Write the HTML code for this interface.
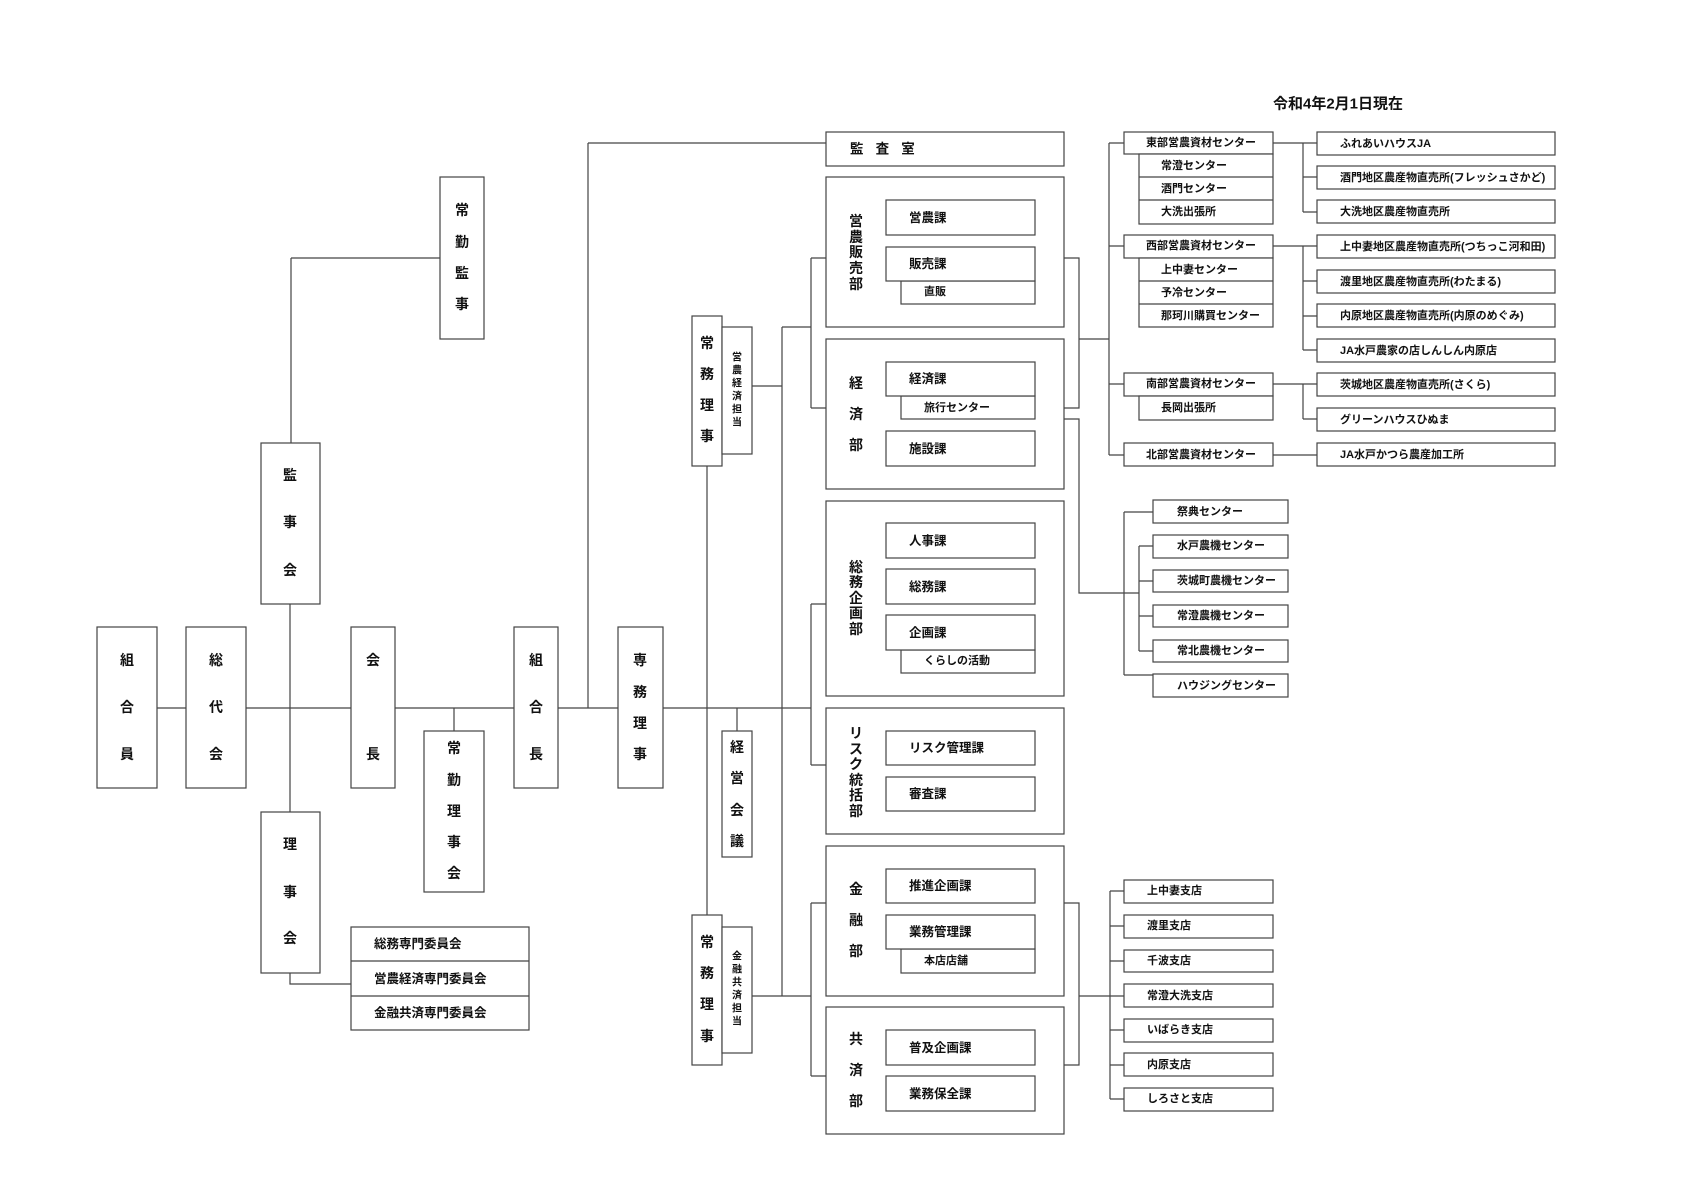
<!DOCTYPE html>
<html><head><meta charset="utf-8"><style>
html,body{margin:0;padding:0;background:#fff;}
svg{display:block;}
text{font-family:"Liberation Sans","Noto Sans CJK JP",sans-serif;font-weight:bold;fill:#111;}
.b{fill:#fff;stroke:#444;stroke-width:1.2;}
.l{fill:none;stroke:#444;stroke-width:1.2;}
.v{font-size:14px;text-anchor:middle;dominant-baseline:central;}
.s{font-size:11px;dominant-baseline:central;}
.m{font-size:12.5px;dominant-baseline:central;}
</style></head><body>
<svg width="1683" height="1190" viewBox="0 0 1683 1190" xmlns="http://www.w3.org/2000/svg">
<text x="1273" y="104" style="font-size:15px;dominant-baseline:central">令和4年2月1日現在</text>

<!-- connectors -->
<path class="l" d="M588 143H826M588 143V708M157 708H186M246 708H351M395 708H514M558 708H618M663 708H811
M291 258H440M291 258V443M290 604V812M290 973V984H351M454 708V731
M707 466V915M782 327V996M737 708V731M752 386H782M782 327H811M752 996H811
M811 258V408M811 258H826M811 408H826M811 604V765M811 604H826M811 765H826M811 903V1076M811 903H826M811 1076H826
M1064 258H1079V408H1064M1079 339H1109
M1064 419H1079V593H1139M1124 512V675M1124 512H1153M1124 675H1153M1139 546V651M1139 546H1153M1139 581H1153M1139 616H1153M1139 651H1153
M1064 903H1079V1065H1064M1079 996H1110M1110 891V1099M1110 891H1124M1110 926H1124M1110 961H1124M1110 996H1124M1110 1030H1124M1110 1065H1124M1110 1099H1124
M1109 143V455M1109 143H1124M1109 246H1124M1109 384H1124M1109 455H1124
M1273 143H1303M1303 143V212M1303 177H1317M1303 212H1317M1303 143H1317
M1273 246H1303M1303 246V350M1303 246H1317M1303 281H1317M1303 316H1317M1303 350H1317
M1273 384H1303M1303 384V419M1303 419H1317M1303 384H1317M1273 455H1317"/>

<!-- left tall boxes -->
<rect class="b" x="97" y="627" width="60" height="161"/>
<text class="v" x="127" y="660">組</text><text class="v" x="127" y="707">合</text><text class="v" x="127" y="754">員</text>
<rect class="b" x="186" y="627" width="60" height="161"/>
<text class="v" x="216" y="660">総</text><text class="v" x="216" y="707">代</text><text class="v" x="216" y="754">会</text>
<rect class="b" x="351" y="627" width="44" height="161"/>
<text class="v" x="373" y="660">会</text><text class="v" x="373" y="754">長</text>
<rect class="b" x="514" y="627" width="44" height="161"/>
<text class="v" x="536" y="660">組</text><text class="v" x="536" y="707">合</text><text class="v" x="536" y="754">長</text>
<rect class="b" x="618" y="627" width="45" height="161"/>
<text class="v" x="640" y="660">専</text><text class="v" x="640" y="692">務</text><text class="v" x="640" y="723">理</text><text class="v" x="640" y="754">事</text>
<rect class="b" x="424" y="731" width="60" height="161"/>
<text class="v" x="454" y="748">常</text><text class="v" x="454" y="780">勤</text><text class="v" x="454" y="811">理</text><text class="v" x="454" y="842">事</text><text class="v" x="454" y="873">会</text>
<rect class="b" x="261" y="812" width="59" height="161"/>
<text class="v" x="290" y="844">理</text><text class="v" x="290" y="892">事</text><text class="v" x="290" y="938">会</text>
<rect class="b" x="261" y="443" width="59" height="161"/>
<text class="v" x="290" y="475">監</text><text class="v" x="290" y="522">事</text><text class="v" x="290" y="570">会</text>
<rect class="b" x="440" y="177" width="44" height="162"/>
<text class="v" x="462" y="210">常</text><text class="v" x="462" y="242">勤</text><text class="v" x="462" y="273">監</text><text class="v" x="462" y="304">事</text>

<!-- committees -->
<rect class="b" x="351" y="927" width="178" height="103"/>
<path class="l" d="M351 961H529M351 996H529"/>
<text class="m" x="374" y="944">総務専門委員会</text>
<text class="m" x="374" y="979">営農経済専門委員会</text>
<text class="m" x="374" y="1013">金融共済専門委員会</text>

<!-- 常務理事 upper -->
<rect class="b" x="692" y="316" width="30" height="150"/>
<text class="v" x="707" y="343">常</text><text class="v" x="707" y="374">務</text><text class="v" x="707" y="405">理</text><text class="v" x="707" y="436">事</text>
<rect class="b" x="722" y="327" width="30" height="127"/>
<g style="font-size:10px;text-anchor:middle;dominant-baseline:central">
<text x="737" y="358">営</text><text x="737" y="371">農</text><text x="737" y="384">経</text><text x="737" y="397">済</text><text x="737" y="410">担</text><text x="737" y="423">当</text></g>
<!-- 経営会議 -->
<rect class="b" x="722" y="731" width="30" height="126"/>
<text class="v" x="737" y="747">経</text><text class="v" x="737" y="778">営</text><text class="v" x="737" y="810">会</text><text class="v" x="737" y="841">議</text>
<!-- 常務理事 lower -->
<rect class="b" x="692" y="915" width="30" height="150"/>
<text class="v" x="707" y="942">常</text><text class="v" x="707" y="973">務</text><text class="v" x="707" y="1004">理</text><text class="v" x="707" y="1036">事</text>
<rect class="b" x="722" y="927" width="30" height="126"/>
<g style="font-size:10px;text-anchor:middle;dominant-baseline:central">
<text x="737" y="957">金</text><text x="737" y="970">融</text><text x="737" y="983">共</text><text x="737" y="996">済</text><text x="737" y="1009">担</text><text x="737" y="1022">当</text></g>

<!-- 監査室 -->
<rect class="b" x="826" y="132" width="238" height="34"/>
<text class="m" x="850" y="149" style="font-size:13.5px;letter-spacing:0.9em">監査室</text>

<!-- 営農販売部 -->
<rect class="b" x="826" y="177" width="238" height="150"/>
<text class="v" x="856" y="221">営</text><text class="v" x="856" y="237">農</text><text class="v" x="856" y="252">販</text><text class="v" x="856" y="268">売</text><text class="v" x="856" y="284">部</text>
<rect class="b" x="886" y="200" width="149" height="35"/><text class="m" x="909" y="218">営農課</text>
<rect class="b" x="901" y="281" width="134" height="23"/><text class="s" x="924" y="292">直販</text>
<rect class="b" x="886" y="247" width="149" height="34"/><text class="m" x="909" y="264">販売課</text>

<!-- 経済部 -->
<rect class="b" x="826" y="339" width="238" height="150"/>
<text class="v" x="856" y="383">経</text><text class="v" x="856" y="414">済</text><text class="v" x="856" y="445">部</text>
<rect class="b" x="901" y="396" width="134" height="23"/><text class="s" x="924" y="408">旅行センター</text>
<rect class="b" x="886" y="362" width="149" height="34"/><text class="m" x="909" y="379">経済課</text>
<rect class="b" x="886" y="431" width="149" height="35"/><text class="m" x="909" y="449">施設課</text>

<!-- 総務企画部 -->
<rect class="b" x="826" y="501" width="238" height="195"/>
<text class="v" x="856" y="567">総</text><text class="v" x="856" y="582">務</text><text class="v" x="856" y="598">企</text><text class="v" x="856" y="613">画</text><text class="v" x="856" y="629">部</text>
<rect class="b" x="886" y="523" width="149" height="35"/><text class="m" x="909" y="541">人事課</text>
<rect class="b" x="886" y="569" width="149" height="35"/><text class="m" x="909" y="587">総務課</text>
<rect class="b" x="901" y="650" width="134" height="23"/><text class="s" x="924" y="661">くらしの活動</text>
<rect class="b" x="886" y="615" width="149" height="35"/><text class="m" x="909" y="633">企画課</text>

<!-- リスク統括部 -->
<rect class="b" x="826" y="708" width="238" height="126"/>
<text class="v" x="856" y="733">リ</text><text class="v" x="856" y="749">ス</text><text class="v" x="856" y="764">ク</text><text class="v" x="856" y="780">統</text><text class="v" x="856" y="795">括</text><text class="v" x="856" y="811">部</text>
<rect class="b" x="886" y="731" width="149" height="34"/><text class="m" x="909" y="748">リスク管理課</text>
<rect class="b" x="886" y="777" width="149" height="34"/><text class="m" x="909" y="794">審査課</text>

<!-- 金融部 -->
<rect class="b" x="826" y="846" width="238" height="150"/>
<text class="v" x="856" y="889">金</text><text class="v" x="856" y="920">融</text><text class="v" x="856" y="951">部</text>
<rect class="b" x="886" y="869" width="149" height="34"/><text class="m" x="909" y="886">推進企画課</text>
<rect class="b" x="901" y="949" width="134" height="24"/><text class="s" x="924" y="961">本店店舗</text>
<rect class="b" x="886" y="915" width="149" height="34"/><text class="m" x="909" y="932">業務管理課</text>

<!-- 共済部 -->
<rect class="b" x="826" y="1007" width="238" height="127"/>
<text class="v" x="856" y="1039">共</text><text class="v" x="856" y="1070">済</text><text class="v" x="856" y="1101">部</text>
<rect class="b" x="886" y="1030" width="149" height="35"/><text class="m" x="909" y="1048">普及企画課</text>
<rect class="b" x="886" y="1076" width="149" height="35"/><text class="m" x="909" y="1094">業務保全課</text>

<!-- centers -->
<g class="s">
<rect class="b" x="1124" y="132" width="149" height="22"/><text class="s" x="1146" y="143">東部営農資材センター</text>
<rect class="b" x="1139" y="154" width="134" height="70"/><path class="l" d="M1139 177H1273M1139 200H1273"/>
<text class="s" x="1161" y="166">常澄センター</text><text class="s" x="1161" y="189">酒門センター</text><text class="s" x="1161" y="212">大洗出張所</text>
<rect class="b" x="1124" y="235" width="149" height="23"/><text class="s" x="1146" y="246">西部営農資材センター</text>
<rect class="b" x="1139" y="258" width="134" height="69"/><path class="l" d="M1139 281H1273M1139 304H1273"/>
<text class="s" x="1161" y="270">上中妻センター</text><text class="s" x="1161" y="293">予冷センター</text><text class="s" x="1161" y="316">那珂川購買センター</text>
<rect class="b" x="1124" y="373" width="149" height="23"/><text class="s" x="1146" y="384">南部営農資材センター</text>
<rect class="b" x="1139" y="396" width="134" height="24"/><text class="s" x="1161" y="408">長岡出張所</text>
<rect class="b" x="1124" y="443" width="149" height="23"/><text class="s" x="1146" y="455">北部営農資材センター</text>
</g>

<!-- farm stands -->
<rect class="b" x="1317" y="132" width="238" height="23"/><text class="s" x="1340" y="144">ふれあいハウスJA</text>
<rect class="b" x="1317" y="166" width="238" height="23"/><text class="s" x="1340" y="178">酒門地区農産物直売所(フレッシュさかど)</text>
<rect class="b" x="1317" y="200" width="238" height="23"/><text class="s" x="1340" y="212">大洗地区農産物直売所</text>
<rect class="b" x="1317" y="235" width="238" height="23"/><text class="s" x="1340" y="247">上中妻地区農産物直売所(つちっこ河和田)</text>
<rect class="b" x="1317" y="270" width="238" height="23"/><text class="s" x="1340" y="282">渡里地区農産物直売所(わたまる)</text>
<rect class="b" x="1317" y="304" width="238" height="23"/><text class="s" x="1340" y="316">内原地区農産物直売所(内原のめぐみ)</text>
<rect class="b" x="1317" y="339" width="238" height="23"/><text class="s" x="1340" y="351">JA水戸農家の店しんしん内原店</text>
<rect class="b" x="1317" y="373" width="238" height="23"/><text class="s" x="1340" y="385">茨城地区農産物直売所(さくら)</text>
<rect class="b" x="1317" y="408" width="238" height="23"/><text class="s" x="1340" y="420">グリーンハウスひぬま</text>
<rect class="b" x="1317" y="443" width="238" height="23"/><text class="s" x="1340" y="455">JA水戸かつら農産加工所</text>

<!-- machinery centers -->
<rect class="b" x="1153" y="500" width="135" height="23"/><text class="s" x="1177" y="512">祭典センター</text>
<rect class="b" x="1153" y="535" width="135" height="23"/><text class="s" x="1177" y="546">水戸農機センター</text>
<rect class="b" x="1153" y="570" width="135" height="22"/><text class="s" x="1177" y="581">茨城町農機センター</text>
<rect class="b" x="1153" y="605" width="135" height="22"/><text class="s" x="1177" y="616">常澄農機センター</text>
<rect class="b" x="1153" y="640" width="135" height="22"/><text class="s" x="1177" y="651">常北農機センター</text>
<rect class="b" x="1153" y="674" width="135" height="23"/><text class="s" x="1177" y="686">ハウジングセンター</text>

<!-- branches -->
<rect class="b" x="1124" y="880" width="149" height="23"/><text class="s" x="1147" y="891">上中妻支店</text>
<rect class="b" x="1124" y="915" width="149" height="23"/><text class="s" x="1147" y="926">渡里支店</text>
<rect class="b" x="1124" y="950" width="149" height="22"/><text class="s" x="1147" y="961">千波支店</text>
<rect class="b" x="1124" y="984" width="149" height="23"/><text class="s" x="1147" y="996">常澄大洗支店</text>
<rect class="b" x="1124" y="1019" width="149" height="23"/><text class="s" x="1147" y="1030">いばらき支店</text>
<rect class="b" x="1124" y="1053" width="149" height="23"/><text class="s" x="1147" y="1065">内原支店</text>
<rect class="b" x="1124" y="1088" width="149" height="23"/><text class="s" x="1147" y="1099">しろさと支店</text>
</svg>
</body></html>
